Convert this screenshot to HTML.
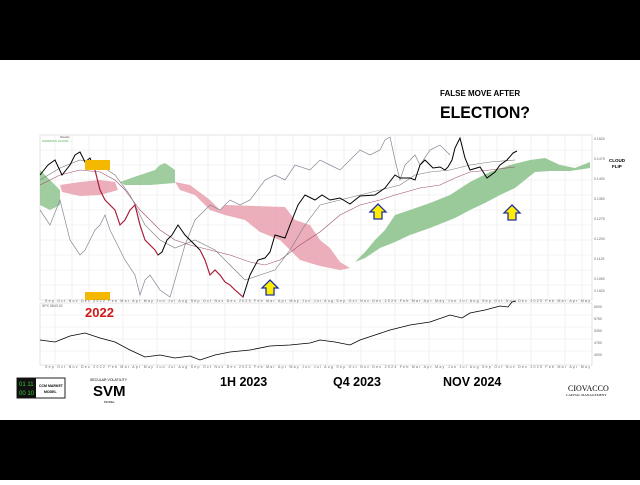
<!DOCTYPE html>
<html><head><style>
body{margin:0;width:640px;height:480px;overflow:hidden;background:#fff;font-family:"Liberation Sans",sans-serif}
</style></head><body>
<svg width="640" height="480" viewBox="0 0 640 480" xmlns="http://www.w3.org/2000/svg" font-family="Liberation Sans, sans-serif">
<rect width="640" height="60" fill="#000"/>
<rect y="420" width="640" height="60" fill="#000"/>
<text x="440" y="96" font-size="8" font-weight="bold">FALSE MOVE AFTER</text>
<text x="440" y="118" font-size="17" font-weight="bold" textLength="90" lengthAdjust="spacingAndGlyphs">ELECTION?</text>
<g stroke="#e8e8e8" stroke-width="0.6">
<path d="M40 135H592V300H40Z M40 303H592V365H40Z" fill="none" stroke="#ccc"/>
<path d="M55 135V300M72 135V300M89 135V300M106 135V300M123 135V300M140 135V300M157 135V300M174 135V300M191 135V300M208 135V300M225 135V300M242 135V300M259 135V300M276 135V300M293 135V300M310 135V300M327 135V300M344 135V300M361 135V300M378 135V300M395 135V300M412 135V300M429 135V300M446 135V300M463 135V300M480 135V300M497 135V300M514 135V300M531 135V300M548 135V300M565 135V300M582 135V300"/>
<path d="M55 303V365M89 303V365M123 303V365M157 303V365M191 303V365M225 303V365M259 303V365M293 303V365M327 303V365M361 303V365M395 303V365M429 303V365M463 303V365M497 303V365M531 303V365M565 303V365"/>
<path d="M40 150H592M40 165H592M40 180H592M40 195H592M40 210H592M40 225H592M40 240H592M40 255H592M40 270H592M40 285H592M40 315H592M40 327H592M40 339H592M40 351H592"/>
</g>
<text x="60" y="138" font-size="3" fill="#555">Weekly</text>
<text x="42" y="142" font-size="3" fill="#4a4">ICHIMOKU CLOUD ...</text>
<path d="M40 170L50 180L60 190L60 205L50 210L40 205Z" fill="#8fc48f" opacity=".85"/>
<path d="M60 185L80 182L100 180L115 182L118 190L100 195L80 196L62 192Z" fill="#e8a0ae" opacity=".85"/>
<path d="M120 182L140 175L155 170L160 165L165 163L175 170L175 183L150 185L125 185Z" fill="#8fc48f" opacity=".85"/>
<path d="M175 182L190 185L210 200L220 210L225 205L285 207L295 220L310 225L320 240L330 248L340 262L350 268L340 270L320 266L300 260L290 250L280 240L260 232L245 220L225 215L210 210L195 195L180 190Z" fill="#e8a0ae" opacity=".85"/>
<path d="M355 262L365 252L375 240L385 230L395 215L410 210L430 203L450 195L470 182L490 172L510 165L530 160L545 158L560 165L575 168L590 162L590 168L570 171L550 171L535 172L525 180L515 188L500 195L485 203L470 210L455 218L430 228L410 235L395 242L380 248L365 258Z" fill="#8fc48f" opacity=".9"/>
<polyline fill="none" stroke="#889" stroke-width=".7" points="40,210 50,225 60,200 70,240 80,255 85,250 90,240 95,230 100,225 105,215 110,230 115,240 125,260 135,275 140,295 145,280 150,275 160,290 170,297 175,280 185,245 195,220 210,205 220,210 230,200 240,205 250,200 265,180 275,175 285,180 295,165 310,170 320,160 330,165 340,170 350,160 360,150 370,155 380,150 385,140 390,137 395,160 400,180 405,165 410,160 415,155 420,165 430,150 440,145 445,150 450,155"/>
<polyline fill="none" stroke="#a05070" stroke-width=".6" points="40,185 60,175 80,170 100,172 115,180 125,190 140,210 160,230 175,240 190,245 210,250 230,255 250,262 265,265 280,260 300,245 320,232 340,215 360,205 380,200 395,195 420,188 440,185 455,178 470,172 490,170 515,167"/>
<polyline fill="none" stroke="#777" stroke-width=".6" points="40,180 60,168 80,160 100,165 115,175 130,195 145,225 160,240 175,248 195,240 215,250 230,265 245,280 260,275 275,270 290,250 305,225 320,205 340,200 360,195 380,190 400,185 415,175 430,172 450,170 470,165 490,162 515,160"/>
<polyline fill="none" stroke="#000" stroke-width="1" points="40,175 48,165 55,160 62,175 70,165 75,155 80,152 85,162 90,158 95,170 100,190 105,200 110,205 115,210 120,225 125,220 130,210 135,205 140,225 145,240 150,245 155,250 158,255 162,252 167,240 172,235 178,225 185,235 190,240 195,245 200,250 205,260 210,275 215,270 220,275 225,282 230,285 235,290 243,297 250,275 258,260 265,258 270,252 275,235 285,238 290,225 298,205 305,195 315,200 322,195 330,200 340,198 350,204 360,196 375,195 385,188 395,175 400,178 410,178 415,180 420,165 425,160 433,168 440,167 445,170 448,167 452,160 455,148 460,138 465,158 470,170 480,167 487,178 495,172 500,165 507,160 513,153 517,151"/>
<polyline fill="none" stroke="#c02040" stroke-width="1" points="95,170 100,190 105,200 110,205 115,210 120,225 125,220 130,210 135,205 140,225 145,240 150,245 155,250 158,255"/>
<polyline fill="none" stroke="#c02040" stroke-width="1" points="200,250 205,260 210,275 215,270 220,275 225,282 230,285 235,290 243,297"/>
<rect x="85" y="160" width="25" height="10" fill="#f5b800"/>
<rect x="85" y="292" width="25" height="8" fill="#f5b800"/>
<g fill="#ffee00" stroke="#2030a0" stroke-width="1.3">
<path d="M270 280L278 288H274V295H266V288H262Z"/>
<path d="M378 204L386 212H382V219H374V212H370Z"/>
<path d="M512 205L520 213H516V220H508V213H504Z"/>
</g>
<g font-size="3.5" fill="#666">
<text x="45" y="302" textLength="545" lengthAdjust="spacing">Sep Oct Nov Dec 2022 Feb Mar Apr May Jun Jul Aug Sep Oct Nov Dec 2023 Feb Mar Apr May Jun Jul Aug Sep Oct Nov Dec 2024 Feb Mar Apr May Jun Jul Aug Sep Oct Nov Dec 2025 Feb Mar Apr May</text>
<text x="45" y="368" textLength="545" lengthAdjust="spacing">Sep Oct Nov Dec 2022 Feb Mar Apr May Jun Jul Aug Sep Oct Nov Dec 2023 Feb Mar Apr May Jun Jul Aug Sep Oct Nov Dec 2024 Feb Mar Apr May Jun Jul Aug Sep Oct Nov Dec 2025 Feb Mar Apr May</text>
<text x="594" y="140">0.1520</text><text x="594" y="160">0.1475</text><text x="594" y="180">0.1400</text><text x="594" y="200">0.1350</text><text x="594" y="220">0.1275</text><text x="594" y="240">0.1200</text><text x="594" y="260">0.1125</text><text x="594" y="280">0.1050</text><text x="594" y="292">0.1020</text>
<text x="594" y="308">6000</text><text x="594" y="320">5750</text><text x="594" y="332">5250</text><text x="594" y="344">4750</text><text x="594" y="356">4000</text>
<text x="42" y="307">SPX 5843.02</text>
</g>
<polyline fill="none" stroke="#000" stroke-width=".8" points="40,340 55,342 70,336 85,333 100,338 115,342 130,350 145,357 160,355 175,358 190,356 200,360 215,355 230,352 250,350 270,346 290,345 310,343 320,340 335,342 350,345 360,340 375,335 390,330 410,325 430,322 450,315 462,318 470,313 485,310 500,306 508,307 512,302 516,301"/>
<text x="85" y="317" font-size="13" font-weight="bold" fill="#d01818">2022</text>
<text x="609" y="162" font-size="4.5" font-weight="bold">CLOUD</text>
<text x="612" y="168" font-size="4.5" font-weight="bold">FLIP</text>
<g font-size="12.5" font-weight="bold">
<text x="220" y="386">1H 2023</text><text x="333" y="386">Q4 2023</text><text x="443" y="386">NOV 2024</text>
</g>
<rect x="17" y="378" width="48" height="20" fill="#fff" stroke="#222"/>
<rect x="17" y="378" width="19" height="20" fill="#111"/>
<text x="19" y="386" font-size="6" fill="#3c3">01 11</text>
<text x="19" y="395" font-size="6" fill="#3c3">00 10</text>
<text x="39" y="387" font-size="3.5" font-weight="bold">CCM MARKET</text>
<text x="44" y="393" font-size="3.5" font-weight="bold">MODEL</text>
<text x="90" y="381" font-size="3.5">SECULAR VOLATILITY</text>
<text x="93" y="396" font-size="15" font-weight="bold">SVM</text>
<text x="104" y="403" font-size="3">MODEL</text>
<text x="568" y="391" font-size="8" font-family="Liberation Serif, serif">CIOVACCO</text>
<text x="566" y="396" font-size="3.5" font-family="Liberation Serif, serif">CAPITAL MANAGEMENT</text>
</svg>
</body></html>
